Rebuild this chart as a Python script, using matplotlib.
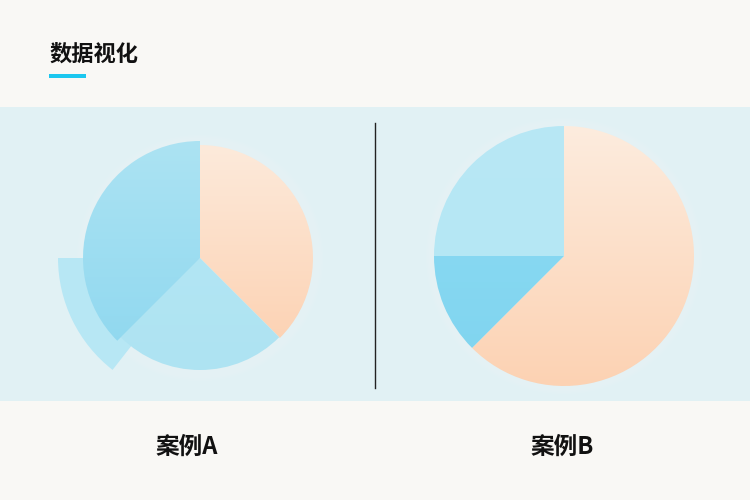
import matplotlib
matplotlib.use("Agg")
import matplotlib.pyplot as plt
import numpy as np
from matplotlib.patches import Wedge, Rectangle, Circle
from matplotlib.colors import LinearSegmentedColormap

plt.rcParams['font.family'] = ['Noto Sans CJK SC', 'DejaVu Sans']

# 数据
title = "数据视化"
case_names = ["案例A", "案例B"]

# 案例A: 橙, 浅蓝(下), 蓝(左)  -- 每块半径不同
a_shares = [37.5, 25.0, 37.5]
a_radii = [113, 112, 117]
a_colors = [("#fdeadb", "#fccfae"), ("#b6e8f5", "#aee3f2"), ("#ace3f3", "#8dd7ef")]
# 案例A 后面的那块突出扇形 (角度, 半径)
a_extra_theta = (180, 232)
a_extra_radius = 142

# 案例B: 橙, 深蓝, 浅蓝
b_shares = [62.5, 12.5, 25.0]
b_radius = 130
b_colors = [("#fdecde", "#fcd2b3"), ("#8edcf4", "#7fd4ef"), ("#b8e8f5", "#b3e6f4")]

W, H = 750, 500
fig = plt.figure(figsize=(W / 100, H / 100), dpi=100)
fig.patch.set_facecolor("#f9f8f5")
ax = fig.add_axes([0, 0, 1, 1])
ax.set_xlim(0, W)
ax.set_ylim(0, H)
ax.set_aspect("equal")
ax.axis("off")

# 浅蓝背景带
ax.add_patch(Rectangle((0, H - 401), W, 294, fc="#e1f1f4", ec="none", zorder=0))


def grad_wedge(center, r, t1, t2, c_top, c_bot, z):
    w = Wedge(center, r, t1, t2, fc="none", ec="none")
    ax.add_patch(w)
    cmap = LinearSegmentedColormap.from_list("g", [c_top, c_bot])
    g = np.linspace(0, 1, 256).reshape(-1, 1)
    im = ax.imshow(g, cmap=cmap, origin="upper", aspect="auto",
                   extent=(center[0] - r, center[0] + r, center[1] - r, center[1] + r),
                   zorder=z, interpolation="bilinear")
    im.set_clip_path(w)


def halo(center, r):
    # 淡淡的白色光晕
    for k in range(6):
        ax.add_patch(Circle(center, r + 1 + k * 1.5, fc="#f2fbfd", ec="none", alpha=0.07, zorder=1))


def draw_pie(center, shares, radii, colors):
    start = 90.0
    for s, r, (c1, c2) in zip(shares, radii, colors):
        t2 = start
        t1 = start - s * 3.6
        grad_wedge(center, r, t1, t2, c1, c2, 3)
        start = t1


# 案例A
ca = (200, H - 258)
halo(ca, 115)
ax.add_patch(Wedge(ca, a_extra_radius, a_extra_theta[0], a_extra_theta[1],
                   fc="#b7e7f4", ec="none", zorder=2))
draw_pie(ca, a_shares, a_radii, a_colors)

# 案例B
cb = (564, H - 256)
halo(cb, b_radius)
draw_pie(cb, b_shares, [b_radius] * 3, b_colors)

# 分隔线
ax.plot([375, 375], [H - 388, H - 123], color="#222222", lw=1.0, zorder=4)

# 标题
ax.text(49, H - 54, title, fontsize=16, fontweight="bold", color="#111111",
        ha="left", va="center")
ax.add_patch(Rectangle((49, H - 77.5), 37, 3.5, fc="#1cc7ef", ec="none"))

# 案例标签
ax.text(187, H - 447, case_names[0], fontsize=17, fontweight="bold", color="#111111",
        ha="center", va="center")
ax.text(562, H - 447, case_names[1], fontsize=17, fontweight="bold", color="#111111",
        ha="center", va="center")

fig.savefig("out.png", dpi=100, facecolor=fig.get_facecolor())
